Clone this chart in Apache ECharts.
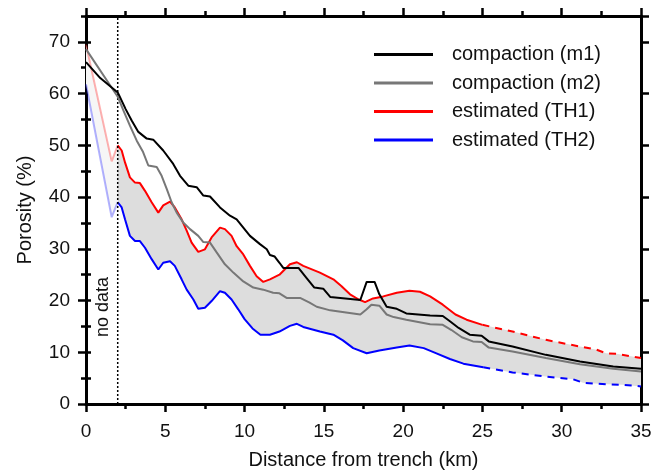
<!DOCTYPE html>
<html>
<head>
<meta charset="utf-8">
<script src="https://cdn.jsdelivr.net/npm/echarts@6/dist/echarts.min.js"></script>
<style>
  html, body { margin: 0; padding: 0; background: #fff; }
  #chart { width: 652px; height: 472px; }
</style>
</head>
<body>
<div id="chart"></div>
<script>
// distance (km), porosity (%)
const m1 = [[0,66.1],[0.9,63.0],[2.0,60.2],[2.1,59.6],[2.5,57.0],[2.88,54.8],[3.3,52.6],[3.83,51.3],[4.24,51.1],[4.87,49.0],[5.5,46.4],[5.93,44.1],[6.45,42.2],[6.98,41.9],[7.4,40.3],[7.82,40.1],[8.45,38.0],[9.08,36.4],[9.5,35.7],[9.92,34.1],[10.34,32.5],[10.97,30.9],[11.4,29.9],[11.6,28.8],[11.9,28.5],[12.2,27.3],[12.44,26.3],[13.4,26.3],[13.9,24.4],[14.4,22.5],[14.96,22.3],[15.4,20.7],[17.3,20.1],[17.7,23.6],[18.2,23.6],[18.5,21.2],[18.96,18.8],[19.6,18.4],[20.2,17.5],[21.7,17.1],[22.5,17.0],[22.95,16.0],[23.5,14.7],[24.2,13.4],[24.95,13.2],[25.4,12.1],[26.9,11.1],[29.0,9.5],[31.15,8.2],[33.25,7.25],[35,6.8]];

const m2 = [[0,68.6],[2.0,59.4],[2.35,56.8],[2.77,53.8],[3.2,50.9],[3.6,48.7],[3.93,46.1],[4.46,45.8],[4.77,44.1],[5.09,41.6],[5.4,39.0],[5.72,37.0],[6.13,35.1],[6.56,33.8],[7.08,32.5],[7.4,31.3],[7.82,31.2],[8.24,29.3],[8.76,27.0],[9.29,25.4],[9.92,23.7],[10.55,22.5],[11.18,22.1],[11.8,21.5],[12.2,21.4],[12.65,20.5],[13.5,20.5],[14.1,19.6],[14.55,18.8],[15.4,18.1],[16.4,17.7],[17.3,17.3],[17.7,18.3],[18.0,19.2],[18.5,19.0],[18.96,17.3],[19.4,16.8],[20.2,16.3],[21.7,15.4],[22.5,15.3],[23.05,14.3],[23.7,12.9],[24.4,12.1],[24.95,12.0],[25.4,10.9],[26.9,10.15],[29.0,8.9],[31.15,7.7],[33.25,6.8],[35,6.3]];

const th1NoData = [[0,69.5],[1.62,46.9],[2.0,50.0]];
const th1 = [[2.0,50.0],[2.25,49.0],[2.46,46.7],[2.77,43.8],[3.09,42.8],[3.4,42.7],[3.72,41.2],[4.14,39.0],[4.56,37.0],[4.87,38.4],[5.3,39.1],[5.6,38.0],[6.03,35.7],[6.35,33.5],[6.66,31.2],[7.08,29.4],[7.5,29.9],[7.92,32.2],[8.45,34.1],[8.76,33.8],[9.18,32.5],[9.5,30.5],[9.92,28.9],[10.34,26.7],[10.76,24.7],[11.18,23.6],[11.6,24.1],[12.2,25.0],[12.86,27.0],[13.3,27.4],[13.7,26.7],[14.75,25.4],[15.6,24.1],[16.1,22.8],[16.65,21.2],[17.2,20.2],[17.6,19.7],[18.1,20.4],[18.75,20.8],[19.6,21.5],[20.4,21.9],[21.06,21.7],[21.7,20.8],[22.5,19.2],[23.3,17.3],[24.0,16.3],[25.0,15.3]];
const th1Extra = [[25.0,15.3],[26.9,14.0],[29.0,12.4],[31.15,11.1],[32.2,10.5],[32.8,9.8],[33.45,9.7],[35,8.9]];

const th2NoData = [[0,61.8],[1.62,36.1],[2.0,39.0]];
const th2 = [[2.0,39.0],[2.25,38.0],[2.46,35.7],[2.77,32.5],[3.09,31.5],[3.4,31.5],[3.72,30.2],[4.14,28.0],[4.56,26.0],[4.87,27.3],[5.3,27.6],[5.6,26.7],[6.03,24.1],[6.35,22.1],[6.77,20.2],[7.08,18.4],[7.5,18.6],[7.92,19.9],[8.45,21.8],[8.76,21.5],[9.18,20.2],[9.6,18.3],[10.0,16.4],[10.5,14.6],[11.0,13.4],[11.6,13.4],[12.2,14.0],[12.86,15.1],[13.3,15.5],[13.7,14.9],[14.75,14.0],[15.6,13.4],[16.2,12.3],[16.85,10.8],[17.7,9.8],[18.5,10.35],[19.6,10.9],[20.4,11.3],[21.3,10.8],[22.1,9.8],[22.95,8.7],[23.8,7.8],[25.05,7.1]];
const th2Extra = [[25.05,7.1],[26.9,6.1],[29.0,5.3],[30.7,4.8],[31.35,4.1],[32.8,3.8],[33.9,3.7],[35,3.4]];

const noDataEdge = [[2,0],[2,75]];

const FONT = 'Liberation Sans, Arial, sans-serif';

function band(upper, lower, color, z) {
  return {
    type: 'custom',
    data: [0],
    silent: true,
    z: z,
    renderItem: function (params, api) {
      const pts = upper.concat(lower.slice().reverse()).map(p => api.coord(p));
      return { type: 'polygon', shape: { points: pts }, style: { fill: color } };
    }
  };
}

function line(name, data, color, type, z) {
  return {
    name: name,
    type: 'line',
    data: data,
    showSymbol: false,
    symbol: 'none',
    z: z || 3,
    lineStyle: { color: color, width: 2, type: type || 'solid' },
    itemStyle: { color: color }
  };
}

function xAx(pos) {
  return {
    type: 'value', position: pos, min: 0, max: 35, interval: 5,
    axisLine: { show: true, onZero: false, lineStyle: { color: '#000', width: 3 } },
    axisTick: { show: true, length: 8, lineStyle: { color: '#000', width: 2.5 } },
    minorTick: { show: true, splitNumber: 2, length: 5, lineStyle: { color: '#000', width: 2.5 } },
    axisLabel: { show: pos === 'bottom', fontFamily: FONT, fontSize: 19, color: '#111', margin: 18 },
    splitLine: { show: false },
    name: pos === 'bottom' ? 'Distance from trench (km)' : '',
    nameLocation: 'middle', nameGap: 46,
    nameTextStyle: { fontFamily: FONT, fontSize: 20, color: '#111' }
  };
}

function yMajor(pos) {
  return {
    type: 'value', position: pos, min: 0, max: 75, interval: 10,
    axisLine: { show: true, onZero: false, lineStyle: { color: '#000', width: 3 } },
    axisTick: { show: true, length: 8, lineStyle: { color: '#000', width: 2.5 } },
    axisLabel: { show: pos === 'left', showMaxLabel: false, fontFamily: FONT, fontSize: 19, color: '#111', margin: 16 },
    splitLine: { show: false },
    name: pos === 'left' ? 'Porosity (%)' : '',
    nameLocation: 'middle', nameGap: 51,
    nameTextStyle: { fontFamily: FONT, fontSize: 20, color: '#111' }
  };
}

function yMinor(pos) {
  return {
    type: 'value', position: pos, min: 0, max: 75, interval: 5,
    axisLine: { show: false },
    axisTick: { show: true, length: 5, lineStyle: { color: '#000', width: 2.5 } },
    axisLabel: { show: false },
    splitLine: { show: false }
  };
}

const chart = echarts.init(document.getElementById('chart'));

chart.setOption({
  animation: false,
  backgroundColor: '#fff',
  grid: { left: 86, right: 11, top: 16, bottom: 68, containLabel: false, outerBoundsMode: 'none' },
  xAxis: [xAx('bottom'), xAx('top')],
  yAxis: [yMajor('left'), yMinor('left'), yMajor('right'), yMinor('right')],
  legend: {
    orient: 'vertical',
    left: 374,
    top: 44.5,
    padding: 0,
    itemWidth: 59,
    itemHeight: 3,
    itemGap: 8.5,
    icon: 'rect',
    selectedMode: false,
    textStyle: { fontFamily: FONT, fontSize: 20, lineHeight: 20, color: '#111', padding: [0, 0, 0, 14] },
    data: ['compaction (m1)', 'compaction (m2)', 'estimated (TH1)', 'estimated (TH2)']
  },
  graphic: [{
    type: 'text',
    x: 103, y: 307,
    rotation: Math.PI / 2,
    style: {
      text: 'no data', font: '18px ' + FONT, fill: '#111',
      align: 'center', verticalAlign: 'middle'
    }
  }],
  series: [
    band(th1NoData, th2NoData, '#f6f6f6', 1),
    band(th1.concat(th1Extra), th2.concat(th2Extra), '#dddddd', 1),
    line('TH1 no data', th1NoData, 'rgba(255,0,0,0.3)'),
    line('TH2 no data', th2NoData, 'rgba(0,0,255,0.3)'),
    {
      name: 'no data edge', type: 'line', data: noDataEdge, showSymbol: false, symbol: 'none', z: 4,
      lineStyle: { color: '#000', width: 1.5, type: [2, 2] }
    },
    line('estimated (TH1)', th1, '#ff0000'),
    line('TH1 beyond', th1Extra, '#ff0000', [7, 6]),
    line('estimated (TH2)', th2, '#0000ff'),
    line('TH2 beyond', th2Extra, '#0000ff', [7, 6]),
    line('compaction (m2)', m2, '#777777', 'solid', 4),
    line('compaction (m1)', m1, '#000000', 'solid', 5)
  ]
});
</script>
</body>
</html>
